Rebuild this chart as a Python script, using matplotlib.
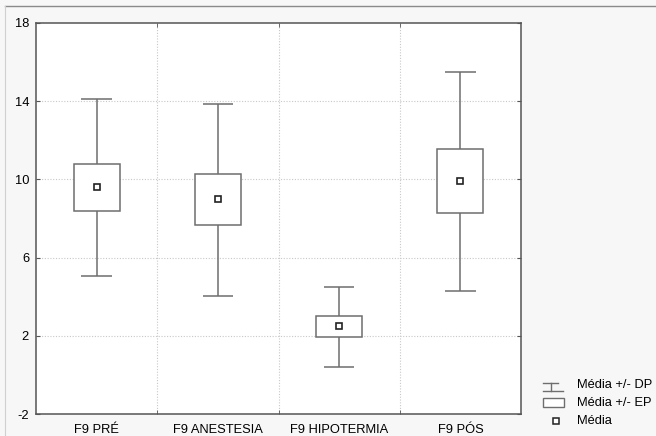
import matplotlib
matplotlib.use("Agg")
import matplotlib.pyplot as plt
from matplotlib.lines import Line2D
from matplotlib.patches import Rectangle

plt.rcParams['font.family'] = ['Liberation Sans', 'DejaVu Sans']

categories = ["F9 PRÉ", "F9 ANESTESIA", "F9 HIPOTERMIA", "F9 PÓS"]
means = [9.61, 9.0, 2.5, 9.92]
se_low = [8.38, 7.67, 1.94, 8.30]
se_high = [10.79, 10.28, 3.01, 11.54]
sd_low = [5.06, 4.04, 0.4, 4.31]
sd_high = [14.11, 13.86, 4.5, 15.51]
yticks = [-2, 2, 6, 10, 14, 18]
legend_labels = ["Média +/- DP", "Média +/- EP", "Média"]

W, H = 656, 436
FS = 9.3
fig = plt.figure(figsize=(W / 100, H / 100), dpi=100)
fig.patch.set_facecolor('#f7f7f7')

# outer frame
fig.add_artist(Line2D([5 / W, 1.0], [1 - 6 / H, 1 - 6 / H], transform=fig.transFigure,
                      color='#8a8a8a', lw=1.0))
fig.add_artist(Line2D([5 / W, 5 / W], [0, 1 - 6 / H], transform=fig.transFigure,
                      color='#d0d0d0', lw=0.8))

ax = fig.add_axes([36 / W, 1 - 414 / H, (521 - 36) / W, (414 - 23) / H])
ax.set_facecolor('white')

x = list(range(len(categories)))
lc = '#6e6e6e'
box_w = 0.38
cap_w = 0.25

ax.vlines(x, sd_low, se_low, color=lc, lw=1.1, zorder=3)
ax.vlines(x, se_high, sd_high, color=lc, lw=1.1, zorder=3)
ax.hlines(sd_low, [xi - cap_w / 2 for xi in x], [xi + cap_w / 2 for xi in x], color=lc, lw=1.1, zorder=3)
ax.hlines(sd_high, [xi - cap_w / 2 for xi in x], [xi + cap_w / 2 for xi in x], color=lc, lw=1.1, zorder=3)
ax.bar(x, [h - l for h, l in zip(se_high, se_low)], bottom=se_low, width=box_w,
       facecolor='white', edgecolor=lc, lw=1.1, zorder=4)
ax.plot(x, means, ls='none', marker='s', ms=4.5, mfc='white', mec='#222222', mew=1.2, zorder=5)

ax.set_xlim(-0.5, 3.5)
ax.set_ylim(-2, 18)
ax.set_yticks(yticks)
ax.set_yticklabels([str(v) for v in yticks], fontsize=FS)
ax.set_xticks(x)
ax.set_xticklabels(categories, fontsize=FS)
ax.tick_params(axis='x', which='major', length=0, pad=7)
ax.set_xticks([0.5, 1.5, 2.5], minor=True)
ax.tick_params(axis='x', which='minor', direction='in', length=3, top=True, color='#555555')
ax.tick_params(axis='y', which='major', direction='in', length=3, right=True, color='#555555', pad=5)

for yv in yticks[1:-1]:
    ax.axhline(yv, color='#c8c8c8', lw=0.8, ls=(0, (1, 1.5)), zorder=1)
for xv in [0.5, 1.5, 2.5]:
    ax.axvline(xv, color='#c8c8c8', lw=0.8, ls=(0, (1, 1.5)), zorder=1)

for s in ax.spines.values():
    s.set_color('#555555')
    s.set_linewidth(1.1)

# legend drawn in figure pixel coordinates
def fx(px):
    return px / W

def fy(py):
    return 1 - py / H

tr = fig.transFigure
# DP symbol
fig.add_artist(Line2D([fx(543), fx(558)], [fy(383), fy(383)], transform=tr, color=lc, lw=1.0))
fig.add_artist(Line2D([fx(551), fx(551)], [fy(383), fy(391)], transform=tr, color=lc, lw=1.0))
fig.add_artist(Line2D([fx(543), fx(563)], [fy(391), fy(391)], transform=tr, color=lc, lw=1.0))
# EP box
fig.add_artist(Rectangle((fx(543), fy(407)), fx(564) - fx(543), fy(398) - fy(407), transform=tr,
                         facecolor='white', edgecolor=lc, lw=1.0))
# mean marker
fig.add_artist(Line2D([fx(556)], [fy(421)], transform=tr, ls='none', marker='s', ms=4.5,
                      mfc='white', mec='#222222', mew=1.1))
for lbl, py in zip(legend_labels, [385, 403, 421]):
    fig.text(fx(577), fy(py), lbl, fontsize=FS, va='center', ha='left')

fig.savefig('out.png', dpi=100, facecolor=fig.get_facecolor())
